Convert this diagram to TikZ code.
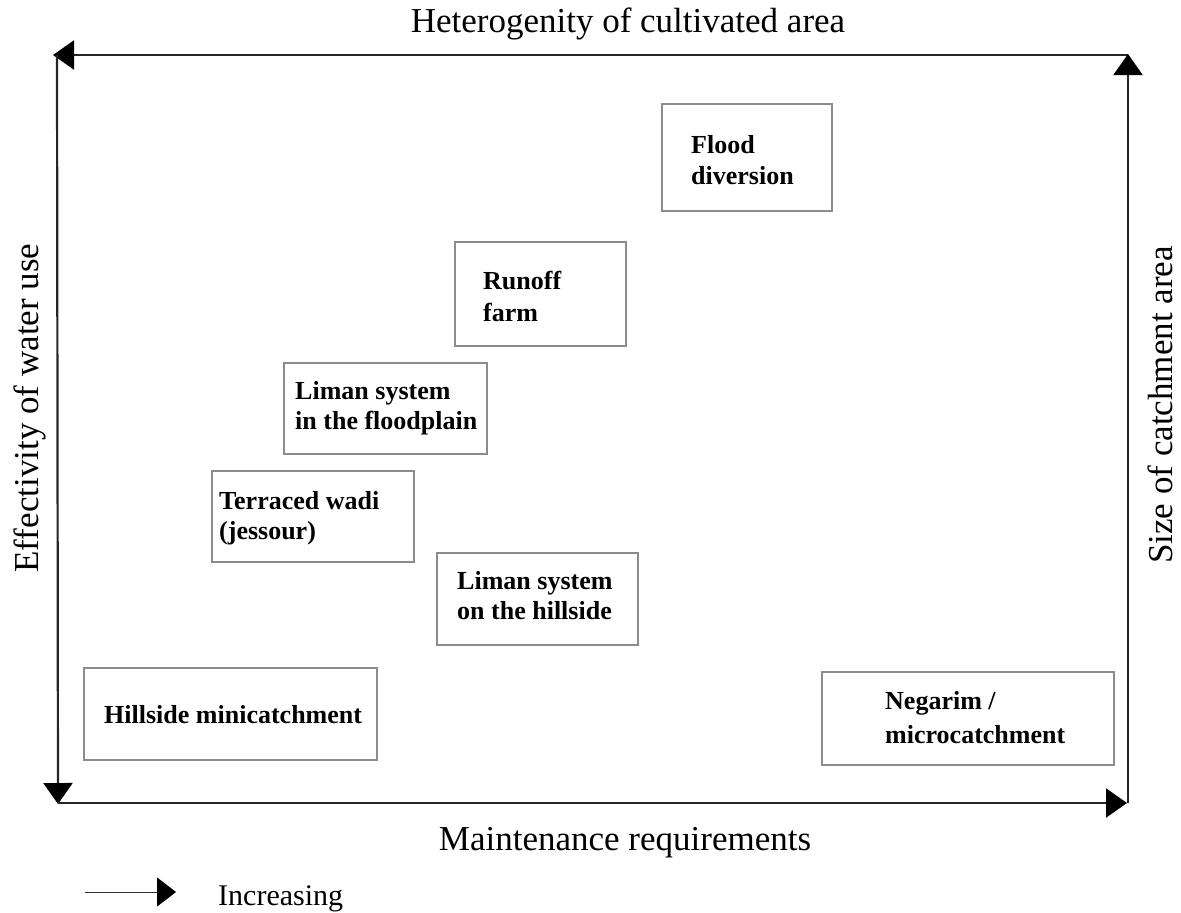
\documentclass[tikz,border=0pt]{standalone}
\usepackage{fontspec}
\setmainfont{Liberation Serif}
\usetikzlibrary{arrows.meta}
\begin{document}
\begin{tikzpicture}[x=1pt,y=-1pt,
  axis/.style={line width=2.2pt, draw=black!85, -{Triangle[length=21pt,width=29pt,fill=black,color=black]}},
  sysbox/.style={draw=black!45, line width=1.3pt, rectangle, inner sep=0pt},
  boxtext/.style={anchor=base west, inner sep=0pt, font=\fontsize{26}{31}\selectfont\bfseries},
  axtitle/.style={inner sep=0pt, font=\fontsize{35}{42}\selectfont},
]
\useasboundingbox (0,0) rectangle (1181,913);

% frame corners
\coordinate (tl) at (57,55);
\coordinate (tr) at (1128,55);
\coordinate (bl) at (58,803);
\coordinate (br) at (1128,803);
\coordinate (tltip) at (53,55);
\coordinate (bltip) at (58,804);
\coordinate (brtip) at (1127,803);
\coordinate (trtip) at (1128,54);

% frame of four arrows
\draw[axis] (tr) -- (tltip);
\draw[axis] (tl) -- (bltip);
\draw[axis] (bl) -- (brtip);
\draw[axis] (br) -- (trtip);

% axis titles
\node[axtitle, anchor=base] (top) at (628,32) {Heterogenity of cultivated area};
\node[axtitle, anchor=base] (bottom) at (625,850) {Maintenance requirements};
\node[axtitle, rotate=90] (left) at (30,408) {Effectivity of water use};
\node[axtitle, rotate=90] (right) at (1160,405) {Size of catchment area};

% systems
\node[sysbox, minimum width=170pt, minimum height=107pt] (fd) at (747,157.5) {};
\node[boxtext] (fd1) at (691,153) {Flood};
\node[boxtext] (fd2) at (691,184) {diversion};

\node[sysbox, minimum width=171pt, minimum height=104pt] (rf) at (540.5,294) {};
\node[boxtext] (rf1) at (483,289) {Runoff};
\node[boxtext] (rf2) at (483,321) {farm};

\node[sysbox, minimum width=203pt, minimum height=91pt] (lf) at (385.5,408.5) {};
\node[boxtext] (lf1) at (295,399) {Liman system};
\node[boxtext] (lf2) at (295,429) {in the floodplain};

\node[sysbox, minimum width=202pt, minimum height=91pt] (tw) at (313,516.5) {};
\node[boxtext] (tw1) at (219,509) {Terraced wadi};
\node[boxtext] (tw2) at (219,539) {(jessour)};

\node[sysbox, minimum width=201pt, minimum height=92pt] (lh) at (537.5,599) {};
\node[boxtext] (lh1) at (457,589) {Liman system};
\node[boxtext] (lh2) at (457,619) {on the hillside};

\node[sysbox, minimum width=293pt, minimum height=92pt] (hm) at (230.5,714) {};
\node[boxtext] (hm1) at (104,723) {Hillside minicatchment};

\node[sysbox, minimum width=292pt, minimum height=93pt] (ng) at (968,718.5) {};
\node[boxtext] (ng1) at (885,709) {Negarim /};
\node[boxtext] (ng2) at (885,743) {microcatchment};

% legend
\coordinate (lgs) at (85,892);
\coordinate (lge) at (176,892);
\draw[line width=1pt, draw=black!80, -{Triangle[length=19pt,width=29pt,fill=black,color=black]}] (lgs) -- (lge);
\node[anchor=base west, inner sep=0pt, font=\fontsize{30}{36}\selectfont] (inc) at (218,905) {Increasing};
\end{tikzpicture}
\end{document}
